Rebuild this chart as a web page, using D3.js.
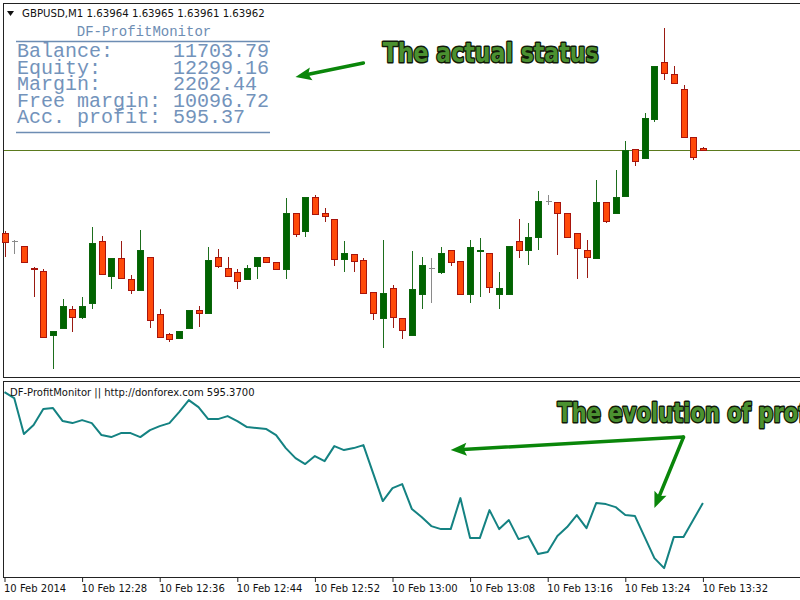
<!DOCTYPE html>
<html><head><meta charset="utf-8">
<script src="https://cdn.jsdelivr.net/npm/d3@7"></script>
<style>body{margin:0;background:#fff}svg{display:block}</style>
</head><body>
<svg id="chart" width="800" height="600"></svg>
<script>
// ---------------- DATA ----------------
const symbolTitle = "GBPUSD,M1";
const lastQuote = [1.63964, 1.63965, 1.63961, 1.63962];
const startTime = new Date(2014, 1, 10, 12, 20);
const candleCount = 73;

const openP = [
1.63879,1.63871,1.63866,1.63844,1.63841,1.63777,1.63784,1.63803,1.63795,1.63809,
1.63871,1.63836,1.63854,1.63833,1.63822,1.63855,1.63798,1.63778,1.63774,1.63784,
1.63802,1.63799,1.63855,1.63844,1.63840,1.63833,1.63846,1.63855,1.63850,1.63843,
1.63899,1.63881,1.63915,1.63899,1.63893,1.63853,1.63858,1.63852,1.63820,1.63794,
1.63824,1.63794,1.63777,1.63818,1.63844,1.63840,1.63862,1.63851,1.63818,1.63861,
1.63859,1.63818,1.63818,1.63871,1.63862,1.63875,1.63911,1.63910,1.63899,1.63879,
1.63862,1.63854,1.63910,1.63899,1.63916,1.63963,1.63954,1.63993,1.64050,1.64038,
1.64023,1.63975,1.63964];
const highP = [
1.63881,1.63872,1.63866,1.63845,1.63843,1.63781,1.63813,1.63806,1.63815,1.63885,
1.63876,1.63854,1.63871,1.63837,1.63882,1.63855,1.63803,1.63779,1.63781,1.63802,
1.63806,1.63865,1.63863,1.63855,1.63843,1.63847,1.63855,1.63855,1.63850,1.63914,
1.63899,1.63915,1.63917,1.63904,1.63893,1.63871,1.63858,1.63854,1.63820,1.63872,
1.63827,1.63794,1.63861,1.63855,1.63854,1.63865,1.63862,1.63851,1.63872,1.63874,
1.63859,1.63840,1.63866,1.63893,1.63889,1.63921,1.63917,1.63910,1.63899,1.63879,
1.63872,1.63932,1.63910,1.63942,1.63971,1.63963,1.63999,1.64046,1.64084,1.64046,
1.64027,1.63975,1.63965];
const lowP = [
1.63855,1.63858,1.63850,1.63815,1.63775,1.63743,1.63784,1.63780,1.63793,1.63803,
1.63838,1.63823,1.63834,1.63818,1.63822,1.63784,1.63775,1.63770,1.63773,1.63784,
1.63785,1.63799,1.63844,1.63836,1.63823,1.63833,1.63833,1.63850,1.63843,1.63833,
1.63875,1.63875,1.63898,1.63890,1.63846,1.63840,1.63840,1.63819,1.63792,1.63764,
1.63784,1.63773,1.63777,1.63803,1.63809,1.63838,1.63846,1.63818,1.63809,1.63815,
1.63819,1.63803,1.63818,1.63854,1.63847,1.63862,1.63907,1.63857,1.63875,1.63833,
1.63834,1.63854,1.63889,1.63899,1.63916,1.63946,1.63954,1.63990,1.64032,1.64029,
1.63975,1.63952,1.63961];
const closeP = [
1.63870,1.63871,1.63850,1.63843,1.63775,1.63781,1.63806,1.63795,1.63806,1.63869,
1.63838,1.63854,1.63834,1.63822,1.63862,1.63792,1.63775,1.63773,1.63781,1.63802,
1.63799,1.63852,1.63846,1.63836,1.63831,1.63844,1.63855,1.63850,1.63843,1.63899,
1.63878,1.63915,1.63898,1.63896,1.63853,1.63859,1.63851,1.63819,1.63799,1.63819,
1.63795,1.63782,1.63823,1.63847,1.63844,1.63859,1.63850,1.63818,1.63865,1.63862,
1.63825,1.63824,1.63866,1.63862,1.63875,1.63911,1.63911,1.63899,1.63875,1.63864,
1.63855,1.63910,1.63891,1.63915,1.63962,1.63951,1.63994,1.64046,1.64039,1.64029,
1.63975,1.63955,1.63962];

const profit = [
1039,1015,871,907,971,975,923,915,927,915,
867,859,875,875,859,887,903,915,959,1007,
979,931,931,943,923,899,895,891,867,815,
775,751,783,763,823,807,815,827,715,603,
655,671,571,539,503,491,491,615,455,455,
567,491,527,451,463,391,399,463,499,547,
495,595,591,579,547,543,459,375,335,459,
459,527,595.37];

const tickLabels = ["10 Feb 2014","10 Feb 12:28","10 Feb 12:36","10 Feb 12:44","10 Feb 12:52",
  "10 Feb 13:00","10 Feb 13:08","10 Feb 13:16","10 Feb 13:24","10 Feb 13:32"];
const tickMinutes = [0,8,16,24,32,40,48,56,64,72];

const infoTitle = "DF-ProfitMonitor";
const infoLabels = ["Balance:","Equity:","Margin:","Free margin:","Acc. profit:"];
const infoValues = ["11703.79","12299.16","2202.44","10096.72","595.37"];
const indicatorLabel = "DF-ProfitMonitor || http://donforex.com 595.3700";

// annotations anchored in data coordinates (minute index, value)
const noteMain = {text:"The actual status", at:[39.3, 1.64050], width:216,
  arrow:{from:[37.3, 1.64049], to:[30.25, 1.64035]}};
const noteSub = {text:"The evolution of profit", measure:"The evolution of pro", at:[57.3, 919], width:241,
  arrows:[{from:[70.5, 859], to:[46.1, 807]}, {from:[70.5, 859], to:[67.9, 575]}]};

// ---------------- CHART ----------------
const svg = d3.select("#chart");
const times = d3.range(candleCount).map(i => d3.timeMinute.offset(startTime, i));
const candles = times.map((t, i) => ({t, i, o: openP[i], h: highP[i], l: lowP[i], c: closeP[i]}));

const x = d3.scaleTime().domain([times[0], times[candleCount - 1]]).range([4.5, 702.9]);
const xi = i => x(d3.timeMinute.offset(startTime, i));
const y = d3.scaleLinear().domain([1.63734, 1.64110]).range([378, 2]);
const yP = d3.scaleLinear().domain([299.37, 1071.37]).range([577, 384]);

svg.append("rect").attr("width", 800).attr("height", 600).attr("fill", "#fff");

// frames
svg.append("rect").attr("x", 3.5).attr("y", 3.5).attr("width", 820).attr("height", 374)
  .attr("fill", "none").attr("stroke", "#222").attr("stroke-width", 1);
svg.append("rect").attr("x", 3.5).attr("y", 381.5).attr("width", 820).attr("height", 196)
  .attr("fill", "none").attr("stroke", "#222").attr("stroke-width", 1);

// bid line
svg.append("line").attr("x1", 4).attr("x2", 800)
  .attr("y1", y(lastQuote[3])).attr("y2", y(lastQuote[3]))
  .attr("stroke", "#5b7a1e").attr("stroke-width", 1).attr("shape-rendering", "crispEdges");

// candles
const cg = svg.append("g").attr("shape-rendering", "crispEdges");
candles.forEach(d => {
  const cx = Math.round(x(d.t));
  const doji = d.o === d.c;
  const bull = d.c > d.o;
  const wickCol = doji ? "#8a8a8a" : (bull ? "#1d6e1d" : "#9a1a12");
  cg.append("line").attr("x1", cx + 0.5).attr("x2", cx + 0.5)
    .attr("y1", y(d.h)).attr("y2", y(d.l)).attr("stroke", wickCol).attr("stroke-width", 1);
  if (doji) {
    cg.append("line").attr("x1", cx - 2.5).attr("x2", cx + 3.5)
      .attr("y1", y(d.o)).attr("y2", y(d.o)).attr("stroke", wickCol).attr("stroke-width", 1);
  } else {
    const top = y(Math.max(d.o, d.c)), bot = y(Math.min(d.o, d.c));
    cg.append("rect").attr("x", cx - 2.5).attr("width", 6)
      .attr("y", top).attr("height", Math.max(1, bot - top))
      .attr("fill", bull ? "#006400" : "#ff4a0a")
      .attr("stroke", bull ? "#0b650b" : "#a8140c").attr("stroke-width", 1);
  }
});

// profit line
svg.append("path").datum(profit)
  .attr("d", d3.line().x((v, i) => xi(i)).y(v => yP(v)))
  .attr("fill", "none").attr("stroke", "#148282").attr("stroke-width", 2).attr("stroke-linejoin", "round");

// time axis
const ax = svg.append("g").attr("transform", "translate(0,578)")
  .call(d3.axisBottom(x).tickValues(tickMinutes.map(m => d3.timeMinute.offset(startTime, m)))
    .tickFormat((d, i) => tickLabels[i]).tickSize(4));
ax.select(".domain").remove();
ax.selectAll(".tick line").attr("stroke", "#222");
ax.selectAll(".tick text").attr("text-anchor", "start").attr("x", -1).attr("y", 7)
  .attr("fill", "#111").style("font", "10px 'DejaVu Sans'");

// header
svg.append("path").attr("d", "M7,11 L14,11 L10.5,16 Z").attr("fill", "#111");
svg.append("text").attr("x", 22).attr("y", 17).style("font", "10.2px 'DejaVu Sans'").attr("fill", "#111")
  .text(symbolTitle + "  " + lastQuote.map(v => v.toFixed(5)).join(" "));

// info box
const info = svg.append("g");
const infoCol = "#6d8db3";
info.append("text").attr("x", 144).attr("y", 36).attr("text-anchor", "middle")
  .style("font", "14px 'Liberation Mono'").attr("fill", infoCol).text(infoTitle);
info.append("line").attr("x1", 16).attr("x2", 270).attr("y1", 41.5).attr("y2", 41.5)
  .attr("stroke", infoCol).attr("stroke-width", 1.5);
info.append("line").attr("x1", 16).attr("x2", 270).attr("y1", 132.5).attr("y2", 132.5)
  .attr("stroke", infoCol).attr("stroke-width", 1.5);
infoLabels.forEach((lab, i) => {
  const row = info.append("text").attr("x", 17).attr("y", 57 + i * 16.6)
    .style("font", "20px 'Liberation Mono'").attr("fill", "#7393bb").attr("xml:space", "preserve");
  row.text(lab.padEnd(13, " ") + infoValues[i]);
});

// indicator label
svg.append("text").attr("x", 10).attr("y", 396).style("font", "10px 'DejaVu Sans'").attr("fill", "#111")
  .text(indicatorLabel);

// annotations
function bigText(g, str, measureStr, px, py, targetW) {
  const font = "bold 27px 'DejaVu Sans'";
  const tmp = g.append("text").style("font", font).text(measureStr);
  const w = tmp.node().getComputedTextLength();
  tmp.remove();
  const s = targetW / w;
  g.append("text").attr("transform", `translate(${px},${py}) scale(${s},1)`)
    .style("font", font).attr("fill", "#4b9130").attr("stroke", "#111a08").attr("stroke-width", 3)
    .attr("paint-order", "stroke").attr("stroke-linejoin", "round").text(str);
}
function arrow(g, x1, y1, x2, y2) {
  const ang = Math.atan2(y2 - y1, x2 - x1);
  const L = 16, W = 6.5;
  const bx = x2 - L * Math.cos(ang), by = y2 - L * Math.sin(ang);
  g.append("line").attr("x1", x1).attr("y1", y1).attr("x2", bx + 4 * Math.cos(ang)).attr("y2", by + 4 * Math.sin(ang))
    .attr("stroke", "#0a860a").attr("stroke-width", 3.5).attr("stroke-linecap", "round");
  const px = -Math.sin(ang), py = Math.cos(ang);
  g.append("path").attr("d", `M${x2},${y2} L${bx + W * px},${by + W * py} L${bx + 3 * Math.cos(ang)},${by + 3 * Math.sin(ang)} L${bx - W * px},${by - W * py} Z`)
    .attr("fill", "#0a860a");
}
const ag = svg.append("g");
bigText(ag, noteMain.text, noteMain.text, xi(noteMain.at[0]), y(noteMain.at[1]), noteMain.width);
arrow(ag, xi(noteMain.arrow.from[0]), y(noteMain.arrow.from[1]), xi(noteMain.arrow.to[0]), y(noteMain.arrow.to[1]));
bigText(ag, noteSub.text, noteSub.measure, xi(noteSub.at[0]), yP(noteSub.at[1]), noteSub.width);
noteSub.arrows.forEach(a => arrow(ag, xi(a.from[0]), yP(a.from[1]), xi(a.to[0]), yP(a.to[1])));
</script>
</body></html>
